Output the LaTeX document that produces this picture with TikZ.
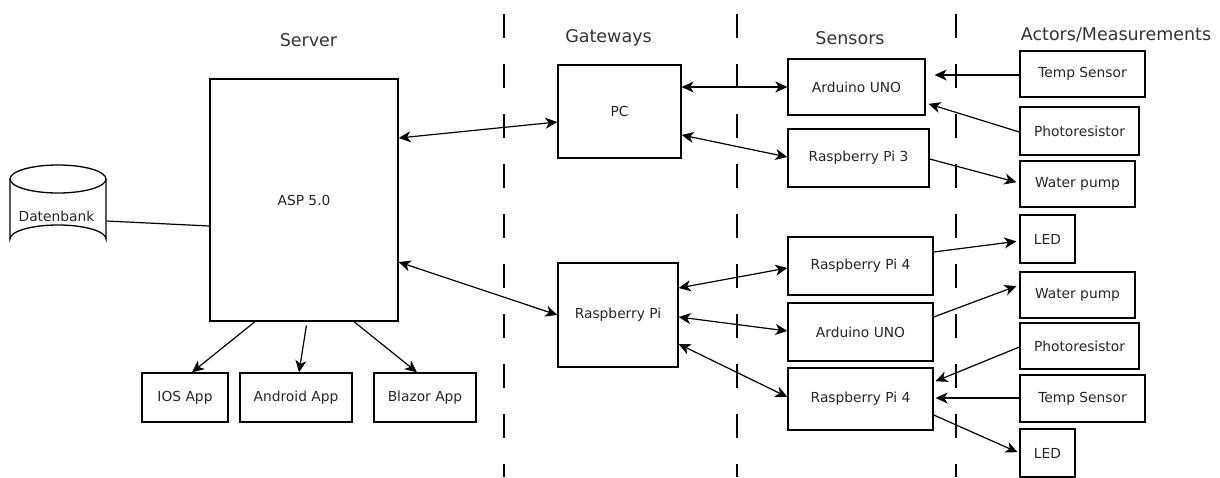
\documentclass[tikz,border=0pt]{standalone}
\usepackage{fontspec}
\setmainfont{DejaVu Sans}
\usetikzlibrary{arrows.meta}
\tikzset{
  box/.style={draw=black, line width=1.3pt, inner sep=0pt, fill=white, text=black!85,
    font=\fontsize{13.8}{16}\selectfont},
  hdr/.style={inner sep=0pt, text=black!80, font=\fontsize{17.5}{20}\selectfont},
  conn/.style={line width=1.2pt, black},
  arr/.style={conn, -{Stealth[length=12pt,width=11pt,inset=3.5pt]}},
  darr/.style={conn, {Stealth[length=12pt,width=11pt,inset=3.5pt]}-{Stealth[length=12pt,width=11pt,inset=3.5pt]}},
  lane/.style={line width=1.3pt, black, dash pattern=on 24pt off 26pt}
}
\begin{document}
\begin{tikzpicture}[x=1pt,y=-1pt]
\useasboundingbox (0,0) rectangle (1220,477);
% lane separators
\draw[lane] (504,14) -- (504,477);
\draw[lane] (737,14) -- (737,477);
\draw[lane] (956,14) -- (956,477);
% headers
\node[hdr] (hserver) at (308.5,40) {Server};
\node[hdr] (hgate) at (608.5,38) {Gateways};
\node[hdr] (hsens) at (850,38) {Sensors};
\node[hdr] (hact) at (1116,35) {Actors/Measurements};
% database cylinder
\draw[line width=1.3pt, fill=white] (10,179) -- (10,239) arc[start angle=180,end angle=360,x radius=48,y radius=14] -- (106,179);
\draw[line width=1.3pt] (58,179) ellipse[x radius=48, y radius=14];
\node[box, draw=none, fill=none, minimum width=96, minimum height=88] (db) at (58,209) {};
\node[inner sep=0pt, text=black!85, font=\fontsize{13.8}{16}\selectfont] (dbt) at (56.5,216.5) {Datenbank};
% server side
\node[box, minimum width=188, minimum height=242] (asp) at (304,200) {ASP 5.0};
\node[box, minimum width=86, minimum height=49] (ios) at (185,397.5) {IOS App};
\node[box, minimum width=112, minimum height=49] (android) at (296,397.5) {Android App};
\node[box, minimum width=102, minimum height=49] (blazor) at (425,397.5) {Blazor App};
% gateways
\node[box, minimum width=123, minimum height=93] (pc) at (619.5,111.5) {PC};
\node[box, minimum width=120, minimum height=104] (rpi) at (618,315) {Raspberry Pi};
% sensors
\node[box, minimum width=137, minimum height=56] (ard1) at (856.5,87) {Arduino UNO};
\node[box, minimum width=141, minimum height=58] (rpi3) at (858.5,158) {Raspberry Pi 3};
\node[box, minimum width=145, minimum height=58] (rpi4a) at (860.5,266) {Raspberry Pi 4};
\node[box, minimum width=145, minimum height=58] (ard2) at (860.5,332) {Arduino UNO};
\node[box, minimum width=145, minimum height=62] (rpi4b) at (860.5,399) {Raspberry Pi 4};
% actors
\node[box, minimum width=125, minimum height=46] (temp1) at (1082.5,74) {Temp Sensor};
\node[box, minimum width=119, minimum height=48] (photo1) at (1079.5,131) {Photoresistor};
\node[box, minimum width=115, minimum height=46] (water1) at (1077.5,184) {Water pump};
\node[box, minimum width=55, minimum height=48] (led1) at (1047.5,239) {LED};
\node[box, minimum width=115, minimum height=46] (water2) at (1077.5,295) {Water pump};
\node[box, minimum width=119, minimum height=46] (photo2) at (1079.5,346) {Photoresistor};
\node[box, minimum width=125, minimum height=47] (temp2) at (1082.5,398.5) {Temp Sensor};
\node[box, minimum width=55, minimum height=48] (led2) at (1047.5,453) {LED};
% connectors: server
\draw[conn] (db.east |- 0,221) -- (asp.west |- 0,226);
\draw[arr] (255,0 |- asp.south) -- (192,0 |- ios.north);
\draw[arr, shorten <=4pt] (307,0 |- asp.south) -- (299,0 |- android.north);
\draw[arr] (354,0 |- asp.south) -- (417,0 |- blazor.north);
\draw[darr] (asp.east |- 0,138) -- (pc.west |- 0,122);
\draw[darr] (asp.east |- 0,262) -- (rpi.west |- 0,315);
% gateways to sensors
\draw[darr] (pc.east |- 0,87) -- (ard1.west |- 0,87);
\draw[darr] (pc.east |- 0,135) -- (rpi3.west |- 0,157);
\draw[darr] (rpi.east |- 0,288) -- (rpi4a.west |- 0,268);
\draw[darr] (rpi.east |- 0,317) -- (ard2.west |- 0,331);
\draw[darr] (rpi.east |- 0,344) -- (rpi4b.west |- 0,397);
% sensors and actors
\draw[arr, shorten >=9pt] (temp1.west |- 0,75) -- (ard1.east |- 0,75);
\draw[arr, shorten >=3pt] (photo1.west |- 0,132) -- (ard1.east |- 0,103);
\draw[arr, shorten >=3pt] (rpi3.east |- 0,159) -- (water1.west |- 0,183);
\draw[arr, shorten >=3pt] (rpi4a.east |- 0,252) -- (led1.west |- 0,241);
\draw[arr, shorten >=3pt] (ard2.east |- 0,317) -- (water2.west |- 0,285);
\draw[arr, shorten >=2pt] (photo2.west |- 0,347) -- (rpi4b.east |- 0,382);
\draw[arr, shorten >=2pt] (temp2.west |- 0,398) -- (rpi4b.east |- 0,398);
\draw[arr, shorten >=2pt] (rpi4b.east |- 0,415) -- (led2.west |- 0,453);
\end{tikzpicture}
\end{document}
